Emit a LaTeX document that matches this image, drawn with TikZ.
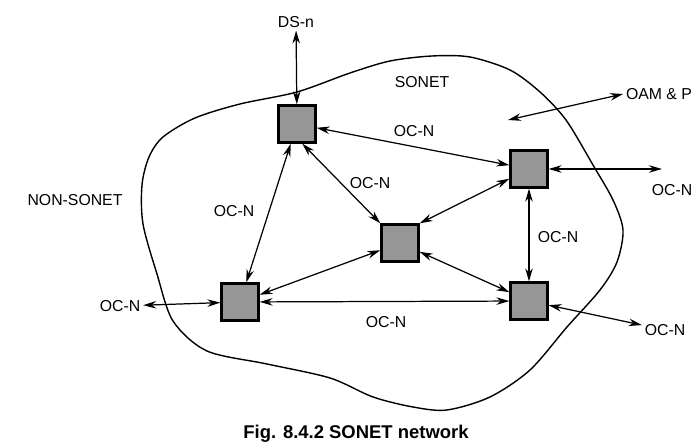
\documentclass[tikz,border=0pt]{standalone}
\usepackage{fontspec}
\setmainfont{Liberation Sans}
\usetikzlibrary{arrows.meta}
\definecolor{boxgray}{RGB}{150,150,150}

\begin{document}
\begin{tikzpicture}[
x=0.02cm, y=-0.02cm,
ne/.style={draw=black, line width=1.3pt, fill=boxgray, minimum size=0.74cm, inner sep=0pt},
lbl/.style={font=\fontsize{9}{11}\selectfont, inner sep=1.5pt},
link/.style={{Stealth[length=2.6mm,width=1.5mm]}-{Stealth[length=2.6mm,width=1.5mm]}, line width=0.7pt, draw=black}
]
\useasboundingbox (0,0) rectangle (698,448);
\draw[line width=0.8pt] plot[smooth cycle] coordinates {
(143,224) (142,185) (149,157) (163,137) (195,118) (240,104) (297,92) (350,73)
(390,61) (432,56) (470,57) (510,70) (540,92) (566,120) (593,165) (613,200)
(623,230) (617,262) (600,290) (567,327) (530,370) (490,397) (447,410) (413,407)
(373,397) (330,378) (267,364) (207,351) (173,321) (157,274)};
\node[ne] (a) at (297,124) {};
\node[ne] (b) at (529,169) {};
\node[ne] (c) at (400,243) {};
\node[ne] (d) at (240,302) {};
\node[ne] (e) at (529,301) {};
\node[lbl] (dsn) at (296,22) {DS-n};
\node[lbl] (sonet) at (422,82) {SONET};
\node[lbl] (oam) at (659,94) {OAM \& P};
\node[lbl] (nonsonet) at (75,200) {NON-SONET};
\node[lbl] (ocl) at (120,306) {OC-N};
\node[lbl] (ocb) at (672,190) {OC-N};
\node[lbl] (oce) at (665,330) {OC-N};
\node[lbl] (lab) at (414,131) {OC-N};
\node[lbl] (lac) at (370,183) {OC-N};
\node[lbl] (lad) at (234,211) {OC-N};
\node[lbl] (lbe) at (558,237) {OC-N};
\node[lbl] (lde) at (386,322) {OC-N};
\node[font=\bfseries\fontsize{10.5}{12}\selectfont] (cap) at (356,434) {Fig. 8.4.2 SONET network};
\coordinate (bout) at (662,169);
\coordinate (oamin) at (508,120);
\draw[link] (dsn) -- (a);
\draw[link] (a) -- (b);
\draw[link] (a.-75) -- (c.north west);
\draw[link] (a) -- (d);
\draw[link] (c.north east) -- (b);
\draw[link] (b) -- (e);
\draw[link] (c) -- (d);
\draw[link] (c) -- (e);
\draw[link] (d) -- (e);
\draw[link] (ocl) -- (d);
\draw[link] (b) -- (bout);
\draw[link] (e) -- (oce);
\draw[link] (oamin) -- (oam.west);
\end{tikzpicture}
\end{document}
